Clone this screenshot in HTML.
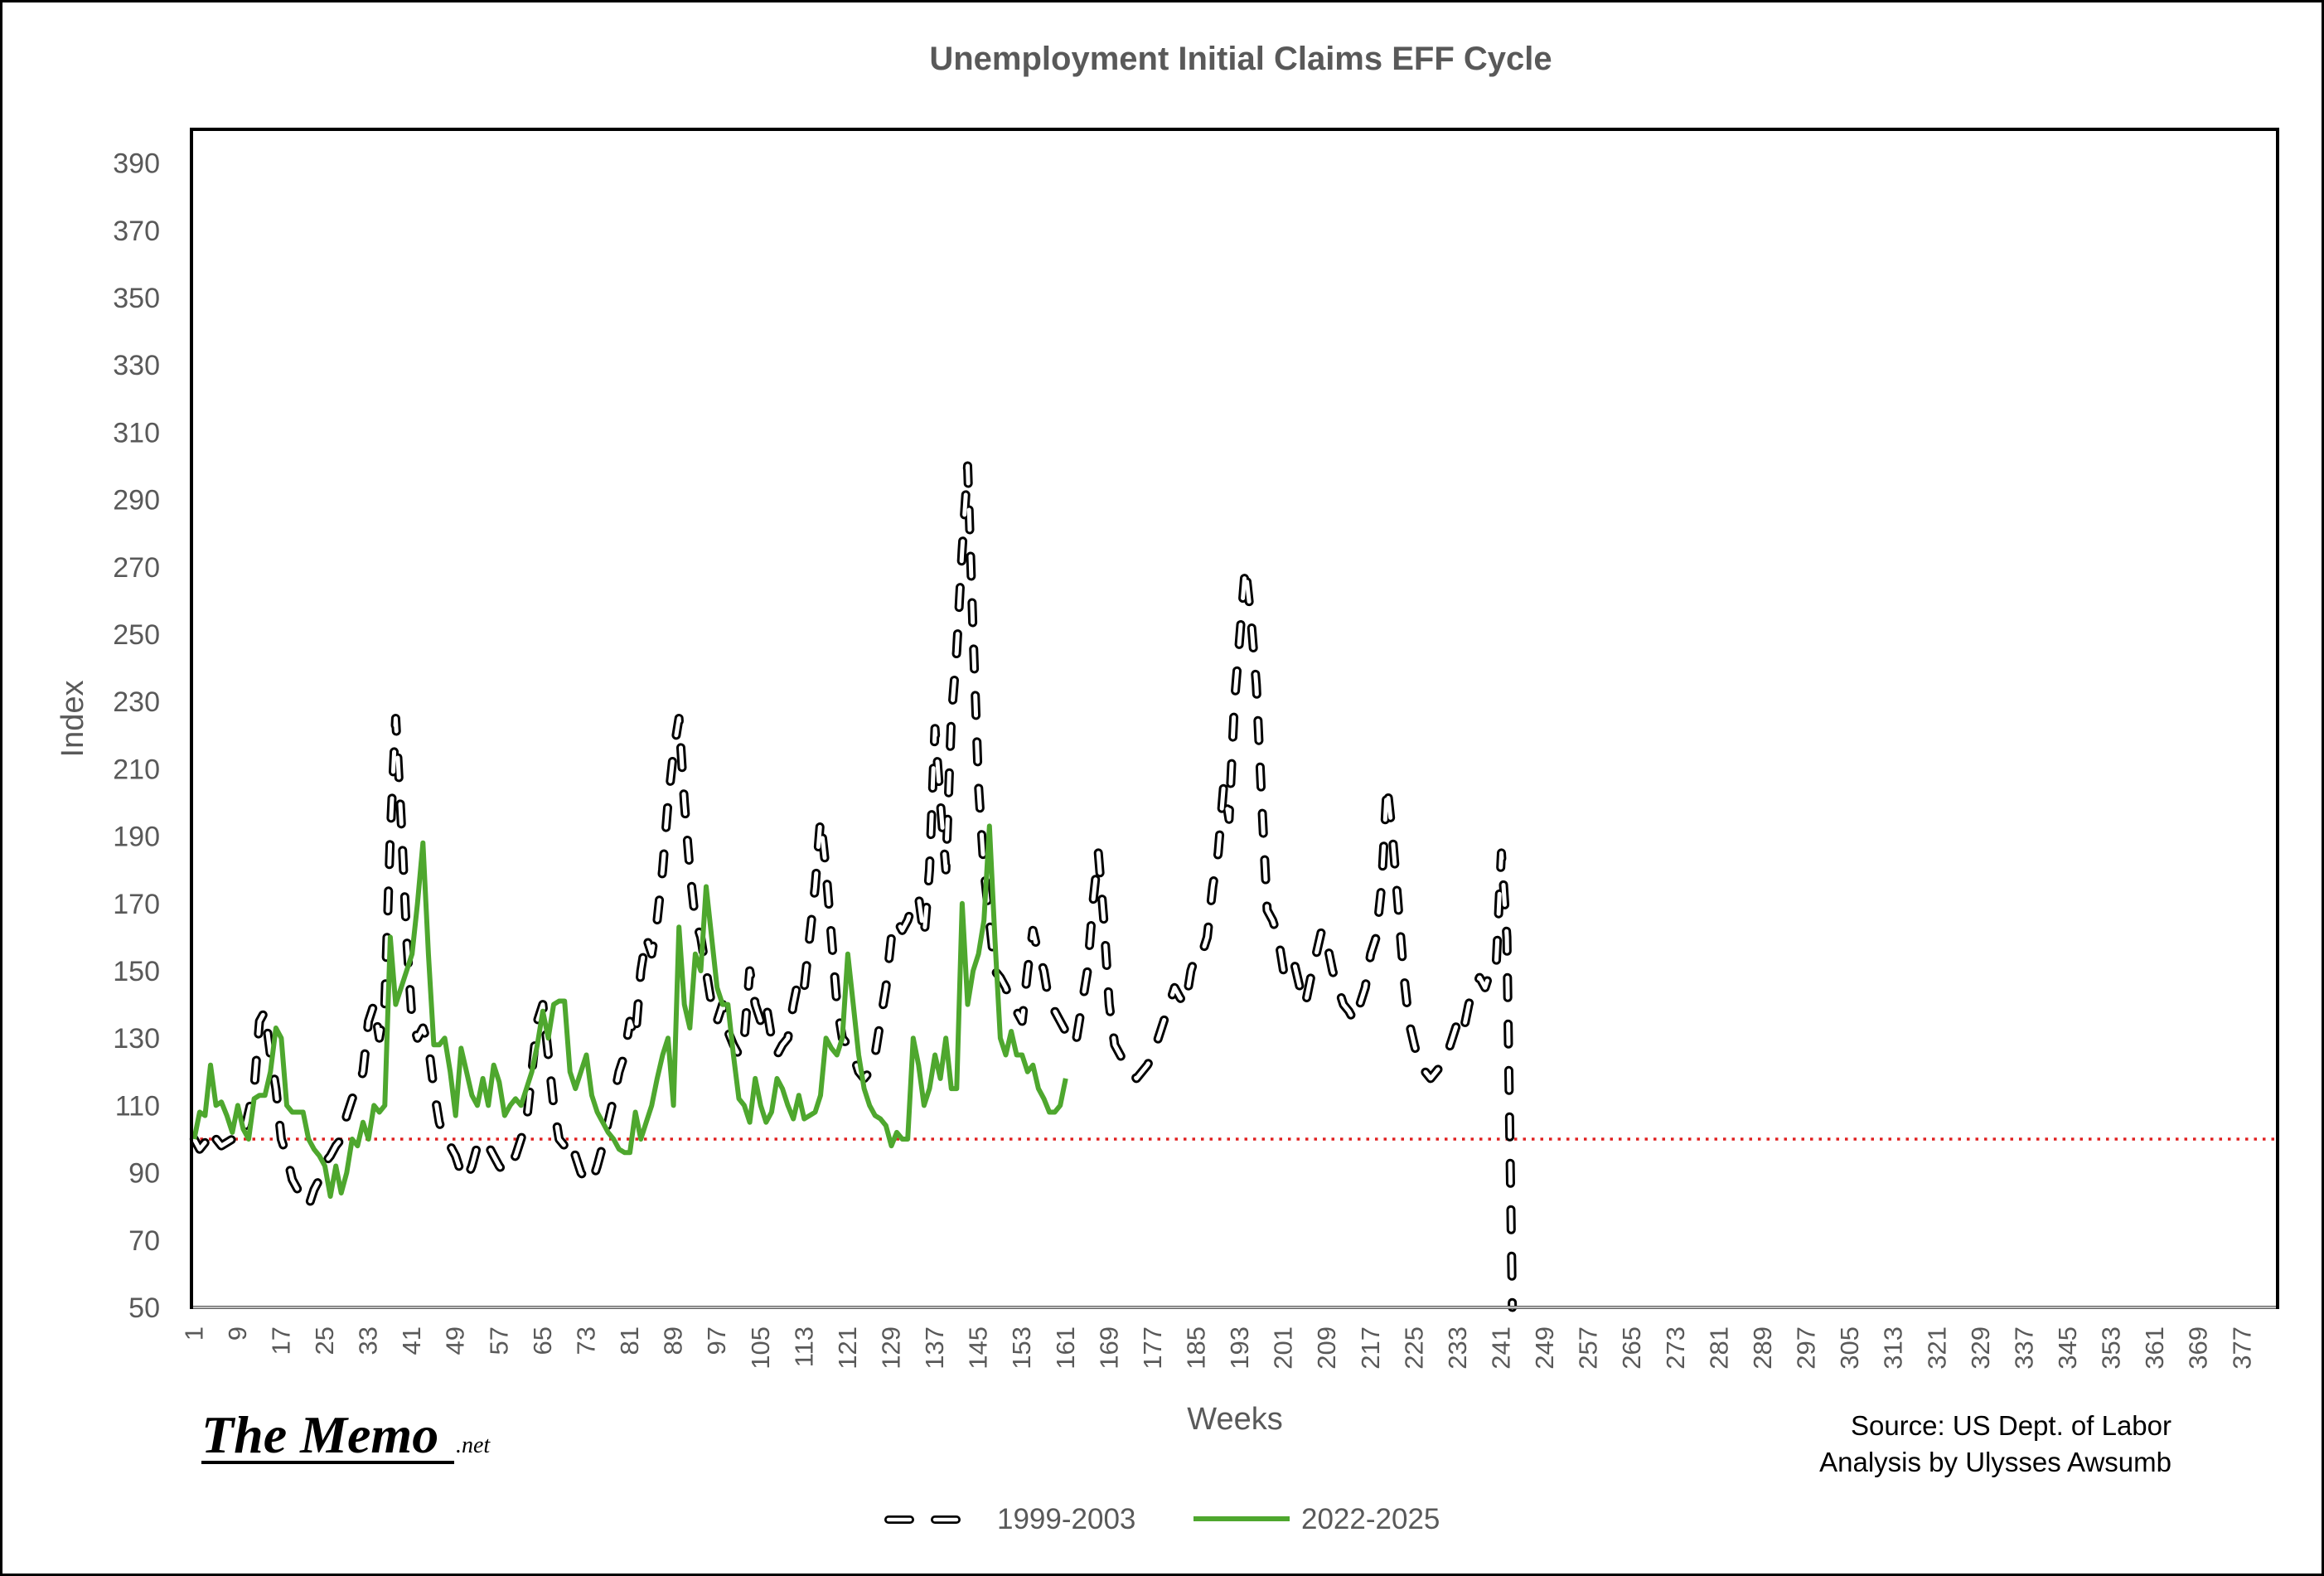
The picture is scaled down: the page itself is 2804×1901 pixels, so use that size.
<!DOCTYPE html>
<html><head><meta charset="utf-8"><style>
html,body{margin:0;padding:0;background:#fff;}
svg{display:block;}
</style></head><body>
<svg id="chart" width="2804" height="1901" viewBox="0 0 2804 1901" xmlns="http://www.w3.org/2000/svg" font-family="Liberation Sans, sans-serif">
<rect x="1.5" y="1.5" width="2801" height="1898" fill="#fff" stroke="#000" stroke-width="3"/>
<text x="1497" y="84" text-anchor="middle" font-size="40" font-weight="bold" fill="#595959">Unemployment Initial Claims EFF Cycle</text>
<g id="yticks"></g>
<g id="xticks"></g>
<g id="series"></g>
<rect x="231" y="156" width="2517" height="1421" fill="none" stroke="#000" stroke-width="4"/>
<line x1="233" y1="1577" x2="2746" y2="1577" stroke="#bfbfbf" stroke-width="3"/>
<text transform="translate(100,867) rotate(-90)" text-anchor="middle" font-size="38" fill="#595959">Index</text>
<text x="1490" y="1724" text-anchor="middle" font-size="38" fill="#595959">Weeks</text>
<text x="2620" y="1731" text-anchor="end" font-size="33" fill="#000">Source: US Dept. of Labor</text>
<text x="2620" y="1775" text-anchor="end" font-size="33" fill="#000">Analysis by Ulysses Awsumb</text>
<g>
<text x="243" y="1752" font-family="Liberation Serif, serif" font-style="italic" font-weight="bold" font-size="64" fill="#000">The Memo</text>
<line x1="243" y1="1764" x2="548" y2="1764" stroke="#000" stroke-width="4"/>
<text x="550" y="1752" font-family="Liberation Serif, serif" font-style="italic" font-size="28" fill="#000">.net</text>
</g>
<g>
<g>
<line x1="1072" y1="1833" x2="1166" y2="1833" stroke="#000" stroke-width="10" stroke-dasharray="26 30" stroke-linecap="round"/>
<line x1="1072" y1="1833" x2="1166" y2="1833" stroke="#fff" stroke-width="4.5" stroke-dasharray="26 30" stroke-linecap="round"/>
<text x="1203" y="1844" font-size="35" fill="#595959">1999-2003</text>
</g>
<g>
<line x1="1440" y1="1832" x2="1556" y2="1832" stroke="#4ea72e" stroke-width="6"/>
<text x="1570" y="1844" font-size="35" fill="#595959">2022-2025</text>
</g>
</g>
</svg>
<script>
const series1999 = [100,97,99,96,100,98,99,100,102,101,
108,115,135,138,125,115,100,95,88,85,
82,80,85,88,93,95,98,100,107,112,
115,120,135,140,130,140,190,225,195,160,
135,130,133,128,115,105,100,98,95,90,
88,92,98,100,98,95,92,90,93,95,
100,105,120,135,140,125,110,100,98,100,
95,90,88,87,92,98,105,112,120,125,
135,130,150,160,155,165,180,200,215,225,
200,180,165,160,150,140,135,140,132,128,
125,130,150,140,135,140,130,125,128,130,
140,148,145,160,175,195,180,160,140,130,
128,125,120,118,120,125,135,145,160,165,
162,165,170,172,160,180,222,200,180,225,
245,275,300,250,205,180,165,150,148,145,
140,138,135,150,162,155,150,140,138,135,
132,128,130,140,150,170,185,165,140,128,
125,122,120,118,120,122,125,130,135,140,
145,142,140,150,155,155,160,175,185,205,
195,230,250,270,255,235,200,168,165,160,
150,148,152,145,140,148,155,162,158,150,
145,140,138,135,140,145,155,160,175,205,
190,170,150,135,128,122,120,118,120,122,
125,130,135,132,140,145,148,145,150,150,
185,160,50];
const series2022 = [100,108,107,122,110,111,107,102,110,103,
100,112,113,113,120,133,130,110,108,108,
108,100,97,95,92,83,92,84,90,100,
98,105,100,110,108,110,160,140,145,150,
155,170,188,155,128,128,130,120,107,127,
120,113,110,118,110,122,117,107,110,112,
110,115,120,128,138,130,140,141,141,120,
115,120,125,113,108,105,102,100,97,96,
96,108,100,105,110,118,125,130,110,163,
140,133,155,150,175,160,145,140,140,125,
112,110,105,118,110,105,108,118,115,110,
106,113,106,107,108,113,130,127,125,130,
155,140,125,115,110,107,106,104,98,102,
100,100,130,122,110,115,125,118,130,115,
115,170,140,150,155,165,193,160,130,125,
132,125,125,120,122,115,112,108,108,110,
118];
const yTicks = [50,70,90,110,130,150,170,190,210,230,250,270,290,310,330,350,370,390];
const nCategories = 383;
const baselineValue = 100;

const NS='http://www.w3.org/2000/svg';
const L=231,R=2748,T=156,B=1577,YMIN=50,YMAX=400;
const cw=(R-L)/nCategories;
const xs=i=>L+cw*(i+0.5);
const ys=v=>B-(Math.max(YMIN,Math.min(YMAX,v))-YMIN)/(YMAX-YMIN)*(B-T);
function mk(tag,attrs,parent){const e=document.createElementNS(NS,tag);for(const k in attrs)e.setAttribute(k,attrs[k]);parent.appendChild(e);return e;}

const yg=document.getElementById('yticks');
yTicks.forEach(v=>{
  const t=mk('text',{x:193,y:ys(v)+12,'text-anchor':'end','font-size':34,fill:'#595959'},yg);
  
  
  t.textContent=v;
});
const xg=document.getElementById('xticks');
for(let w=1;w<=nCategories;w+=8){
  const x=xs(w-1);
  const t=mk('text',{transform:`translate(${x+10},1600) rotate(-90)`,'text-anchor':'end','font-size':31,fill:'#595959'},xg);
  
  
  t.textContent=w;
}

const sg=document.getElementById('series');
const base=mk('line',{x1:L,y1:ys(baselineValue),x2:R,y2:ys(baselineValue),stroke:'#e02020','stroke-width':3.5,'stroke-dasharray':'3.5 7'},sg);



function pathOf(arr){return arr.map((v,i)=>(i?'L':'M')+xs(i).toFixed(1)+' '+ys(v).toFixed(1)).join(' ');}
const d1=pathOf(series1999);
const p1a=mk('path',{d:d1,fill:'none',stroke:'#000','stroke-width':11,'stroke-dasharray':'24 32','stroke-linecap':'round','stroke-linejoin':'round'},sg);


const p1b=mk('path',{d:d1,fill:'none',stroke:'#fff','stroke-width':5,'stroke-dasharray':'24 32','stroke-linecap':'round','stroke-linejoin':'round'},sg);


const p2=mk('path',{d:pathOf(series2022),fill:'none',stroke:'#4ea72e','stroke-width':6,'stroke-linejoin':'round'},sg);


</script>
</body></html>
